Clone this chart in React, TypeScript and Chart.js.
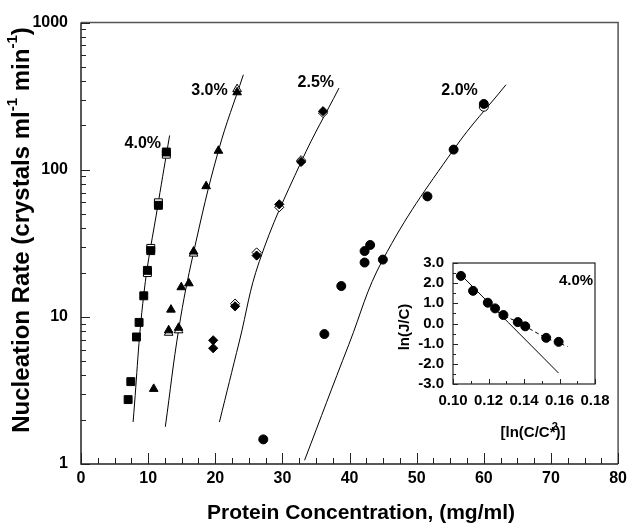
import React, { useEffect, useRef } from "react";
import { Chart, registerables } from "chart.js";
Chart.register(...registerables);

const FONT = "'Liberation Sans', Arial, Helvetica, sans-serif";

// ---- Main plot data (Protein concentration mg/ml vs nucleation rate) ----
// 4.0 %
const sq40X = [7.02, 7.42, 8.26, 8.65, 9.35, 9.89, 10.39, 11.53, 12.71];
const sq40Y = [2.74, 3.63, 7.3, 9.17, 13.9, 20.7, 28.2, 57.3, 132];
const open40X = [9.89, 10.39, 11.53, 12.71];
const open40Y = [20.0, 29.2, 59.6, 127.5];
const fit40X = [7.76, 9.35, 11.53, 13.2];
const fit40Y = [1.93, 14.2, 60.3, 171];
// 3.0 %
const tri30X = [10.83, 13.06, 13.4, 14.54, 14.93, 16.07, 16.77, 18.64, 20.47, 23.25];
const tri30Y = [3.24, 8.1, 11.2, 8.43, 15.9, 16.9, 27.8, 77.3, 134.6, 336];
const open30X = [13.06, 14.54, 16.77, 23.25];
const open30Y = [7.8, 8.1, 26.9, 353];
const fit30X = [12.56, 14.59, 16.77, 20.47, 24.18];
const fit30Y = [1.79, 8.43, 27.4, 134.6, 442];
// 2.5 %
const dia25X = [19.69, 19.69, 22.95, 26.16, 29.53, 32.79, 36.05];
const dia25Y = [6.12, 6.93, 11.8, 26.1, 58.2, 113, 250];
const open25X = [22.95, 26.16, 29.53, 32.79, 36.05];
const open25Y = [12.3, 27.4, 55.6, 116, 243];
const fit25X = [20.62, 23.6, 26.56, 32.79, 38.43];
const fit25Y = [1.93, 6.85, 23.8, 113, 359];
// 2.0 %
const cir20X = [27.15, 36.25, 38.77, 42.24, 42.24, 43.07, 44.96, 51.6, 55.5, 60.0];
const cir20Y = [1.47, 7.64, 16.2, 23.4, 28.0, 30.8, 24.5, 65.9, 137, 280];
const open20X = [60.0];
const open20Y = [268];
const fit20X = [33.3, 39.9, 44.96, 55.5, 63.3];
const fit20Y = [1.06, 6.5, 24.5, 137, 378];

const X_TICKS = [0, 10, 20, 30, 40, 50, 60, 70, 80];
const Y_TICKS = [1, 10, 100, 1000];

const curveLabels = ["4.0%", "3.0%", "2.5%", "2.0%"];
const curveLabelX = [9.2, 19.14, 34.97, 56.38];
const curveLabelY = [150.7, 347, 394, 347];

// ---- Inset data ----
const insetX = [0.1045, 0.1113, 0.1196, 0.1237, 0.1284, 0.1365, 0.1407, 0.1525, 0.1595];
const insetY = [2.36, 1.62, 1.03, 0.75, 0.42, 0.07, -0.14, -0.71, -0.91];
const insetSolidX = [0.1028, 0.1595];
const insetSolidY = [2.56, -2.46];
const insetDashX = [0.1196, 0.1284, 0.1365, 0.1525, 0.1646];
const insetDashY = [1.03, 0.42, 0.07, -0.71, -1.14];
const INSET_X_TICKS = [0.1, 0.12, 0.14, 0.16, 0.18];
const INSET_Y_TICKS = [-3, -2, -1, 0, 1, 2, 3];

const mk = (xs: number[], ys: number[]) => xs.map((x, i) => ({ x, y: ys[i] }));

const filled = (data: any, style: string, r: number) => ({
  data,
  showLine: false,
  pointStyle: style,
  pointRadius: r,
  pointBackgroundColor: "#000",
  pointBorderColor: "#000",
  pointBorderWidth: 1,
});
const open = (data: any, style: string, r: number) => ({
  data,
  showLine: false,
  pointStyle: style,
  pointRadius: r,
  pointBackgroundColor: "#fff",
  pointBorderColor: "#000",
  pointBorderWidth: 1,
});
const line = (data: any, dash: number[] = []) => ({
  data,
  showLine: true,
  pointRadius: 0,
  borderColor: "#000",
  borderWidth: 1,
  borderDash: dash,
  tension: 0.4,
  fill: false,
});

function drawSupText(
  ctx: CanvasRenderingContext2D,
  parts: { t: string; sup?: boolean }[],
  size: number,
  cx: number,
  cy: number
) {
  const supSize = Math.round(size * 0.62);
  let total = 0;
  parts.forEach((p) => {
    ctx.font = `bold ${p.sup ? supSize : size}px ${FONT}`;
    total += ctx.measureText(p.t).width;
  });
  let x = cx - total / 2;
  ctx.textBaseline = "middle";
  ctx.textAlign = "left";
  parts.forEach((p) => {
    ctx.font = `bold ${p.sup ? supSize : size}px ${FONT}`;
    ctx.fillText(p.t, x, p.sup ? cy - size * 0.38 : cy);
    x += ctx.measureText(p.t).width;
  });
}

const mainPlugin = {
  id: "mainDecor",
  beforeDatasetsDraw(chart: any) {
    const { ctx, chartArea: a, scales } = chart;
    const xs = scales.x;
    const ys = scales.y;
    ctx.save();
    ctx.strokeStyle = "#555";
    ctx.lineWidth = 1.5;
    ctx.beginPath();
    ctx.moveTo(a.left, a.top);
    ctx.lineTo(a.right, a.top);
    ctx.lineTo(a.right, a.bottom);
    ctx.stroke();
    ctx.strokeStyle = "#222";
    ctx.beginPath();
    ctx.moveTo(a.left, a.top);
    ctx.lineTo(a.left, a.bottom);
    ctx.lineTo(a.right, a.bottom);
    ctx.stroke();
    ctx.lineWidth = 1;
    for (let v = 0; v <= 80.001; v += 2.5) {
      const px = Math.round(xs.getPixelForValue(v)) + 0.5;
      const major = Math.abs(v % 10) < 1e-6;
      ctx.beginPath();
      ctx.moveTo(px, a.bottom);
      ctx.lineTo(px, a.bottom - (major ? 11 : 6));
      ctx.stroke();
    }
    for (let d = 1; d <= 1000; d *= 10) {
      for (let m = 1; m <= 9; m++) {
        const v = d * m;
        if (v > 1000) break;
        const py = Math.round(ys.getPixelForValue(v)) + 0.5;
        ctx.beginPath();
        ctx.moveTo(a.left, py);
        ctx.lineTo(a.left + (m === 1 ? 9 : 5), py);
        ctx.stroke();
      }
    }
    ctx.restore();
  },
  afterDraw(chart: any) {
    const { ctx, scales } = chart;
    ctx.save();
    ctx.fillStyle = "#000";
    ctx.font = `bold 16px ${FONT}`;
    ctx.textAlign = "center";
    ctx.textBaseline = "middle";
    curveLabels.forEach((t, i) => {
      ctx.fillText(t, scales.x.getPixelForValue(curveLabelX[i]), scales.y.getPixelForValue(curveLabelY[i]));
    });
    ctx.font = `bold 21px ${FONT}`;
    ctx.fillText("Protein Concentration, (mg/ml)", 361, 513);
    ctx.translate(22, 230);
    ctx.rotate(-Math.PI / 2);
    drawSupText(
      ctx,
      [
        { t: "Nucleation Rate (crystals ml" },
        { t: "-1", sup: true },
        { t: " min" },
        { t: "-1", sup: true },
        { t: ")" },
      ],
      24,
      0,
      0
    );
    ctx.restore();
  },
};

const insetPlugin = {
  id: "insetDecor",
  beforeDatasetsDraw(chart: any) {
    const { ctx, chartArea: a, scales } = chart;
    ctx.save();
    ctx.strokeStyle = "#222";
    ctx.lineWidth = 1.2;
    ctx.strokeRect(a.left, a.top, a.right - a.left, a.bottom - a.top);
    ctx.lineWidth = 1;
    for (let i = 0; i <= 8; i++) {
      const v = 0.1 + i * 0.01;
      const px = Math.round(scales.x.getPixelForValue(v)) + 0.5;
      ctx.beginPath();
      ctx.moveTo(px, a.bottom);
      ctx.lineTo(px, a.bottom - (i % 2 === 0 ? 5 : 3));
      ctx.stroke();
    }
    for (let i = 0; i <= 12; i++) {
      const v = -3 + i * 0.5;
      const py = Math.round(scales.y.getPixelForValue(v)) + 0.5;
      ctx.beginPath();
      ctx.moveTo(a.left, py);
      ctx.lineTo(a.left + (i % 2 === 0 ? 5 : 3), py);
      ctx.stroke();
    }
    ctx.restore();
  },
  afterDraw(chart: any) {
    const { ctx, scales } = chart;
    ctx.save();
    ctx.fillStyle = "#000";
    ctx.font = `bold 15px ${FONT}`;
    ctx.textAlign = "center";
    ctx.textBaseline = "middle";
    ctx.fillText("4.0%", scales.x.getPixelForValue(0.1693), scales.y.getPixelForValue(2.11));
    const cx = 533 - 390;
    const cy = 433 - 245;
    ctx.textAlign = "left";
    const a = "[ln(C/C";
    const b = "*";
    const c = ")]";
    const wa = ctx.measureText(a).width;
    const wb = ctx.measureText(b).width;
    const wc = ctx.measureText(c).width;
    const start = cx - (wa + wb + wc) / 2;
    ctx.fillText(a, start, cy);
    ctx.fillText(b, start + wa, cy);
    ctx.fillText(c, start + wa + wb, cy);
    ctx.font = `bold 11px ${FONT}`;
    ctx.fillText("2", start + wa + 2, cy - 6);
    ctx.font = `bold 15px ${FONT}`;
    ctx.translate(405 - 390, 327 - 245);
    ctx.rotate(-Math.PI / 2);
    ctx.textAlign = "center";
    ctx.fillText("ln(J/C)", 0, 0);
    ctx.restore();
  },
};

export default function App() {
  const mainRef = useRef<HTMLCanvasElement>(null);
  const insetRef = useRef<HTMLCanvasElement>(null);

  useEffect(() => {
    const main = new Chart(mainRef.current as HTMLCanvasElement, {
      type: "scatter",
      data: {
        datasets: [
          filled(mk(sq40X, sq40Y), "rect", 5.6),
          filled(mk(tri30X, tri30Y), "triangle", 5),
          filled(mk(dia25X, dia25Y), "rectRot", 4.6),
          filled(mk(cir20X, cir20Y), "circle", 4.5),
          open(mk(open40X, open40Y), "rect", 5.6),
          open(mk(open30X, open30Y), "triangle", 5),
          open(mk(open25X, open25Y), "rectRot", 4.6),
          open(mk(open20X, open20Y), "circle", 4.5),
          line(mk(fit40X, fit40Y)),
          line(mk(fit30X, fit30Y)),
          line(mk(fit25X, fit25Y)),
          line(mk(fit20X, fit20Y)),
        ] as any,
      },
      options: {
        animation: false,
        responsive: false,
        devicePixelRatio: 1,
        layout: { padding: { top: 19, right: 12, left: 0, bottom: 0 } },
        plugins: { legend: { display: false }, tooltip: { enabled: false } },
        scales: {
          x: {
            type: "linear",
            min: 0,
            max: 80,
            afterBuildTicks: (s: any) => {
              s.ticks = X_TICKS.map((v) => ({ value: v }));
            },
            afterFit: (s: any) => {
              s.height = 67;
            },
            grid: { display: false, drawTicks: false },
            border: { display: false },
            ticks: { color: "#000", font: { family: FONT, size: 16, weight: "bold" }, padding: 5, maxRotation: 0 },
          },
          y: {
            type: "logarithmic",
            min: 1,
            max: 1000,
            afterBuildTicks: (s: any) => {
              s.ticks = Y_TICKS.map((v) => ({ value: v }));
            },
            afterFit: (s: any) => {
              s.width = 81;
            },
            grid: { display: false, drawTicks: false },
            border: { display: false },
            ticks: {
              color: "#000",
              font: { family: FONT, size: 16, weight: "bold" },
              padding: 13,
              callback: (v: any) => String(v),
            },
          },
        },
      } as any,
      plugins: [mainPlugin],
    });

    const inset = new Chart(insetRef.current as HTMLCanvasElement, {
      type: "scatter",
      data: {
        datasets: [
          filled(mk(insetX, insetY), "circle", 4.5),
          line(mk(insetSolidX, insetSolidY)),
          line(mk(insetDashX, insetDashY), [4, 3]),
        ] as any,
      },
      options: {
        animation: false,
        responsive: false,
        devicePixelRatio: 1,
        layout: { padding: { top: 18, right: 27, left: 0, bottom: 0 } },
        plugins: { legend: { display: false }, tooltip: { enabled: false } },
        scales: {
          x: {
            type: "linear",
            min: 0.1,
            max: 0.18,
            afterBuildTicks: (s: any) => {
              s.ticks = INSET_X_TICKS.map((v) => ({ value: v }));
            },
            afterFit: (s: any) => {
              s.height = 76;
            },
            grid: { display: false, drawTicks: false },
            border: { display: false },
            ticks: {
              color: "#000",
              font: { family: FONT, size: 15, weight: "bold" },
              padding: 8,
              maxRotation: 0,
              autoSkip: false,
              callback: (v: any) => Number(v).toFixed(2),
            },
          },
          y: {
            type: "linear",
            min: -3,
            max: 3,
            afterBuildTicks: (s: any) => {
              s.ticks = INSET_Y_TICKS.map((v) => ({ value: v }));
            },
            afterFit: (s: any) => {
              s.width = 63;
            },
            grid: { display: false, drawTicks: false },
            border: { display: false },
            ticks: {
              color: "#000",
              font: { family: FONT, size: 15, weight: "bold" },
              padding: 9,
              autoSkip: false,
              callback: (v: any) => Number(v).toFixed(1),
            },
          },
        },
      } as any,
      plugins: [insetPlugin],
    });

    return () => {
      main.destroy();
      inset.destroy();
    };
  }, []);

  return (
    <div style={{ position: "absolute", left: 0, top: 0, width: 632, height: 531, background: "#fff" }}>
      <canvas ref={mainRef} width={632} height={531} style={{ position: "absolute", left: 0, top: 0, width: 632, height: 531 }} />
      <canvas ref={insetRef} width={232} height={215} style={{ position: "absolute", left: 390, top: 245, width: 232, height: 215 }} />
    </div>
  );
}
